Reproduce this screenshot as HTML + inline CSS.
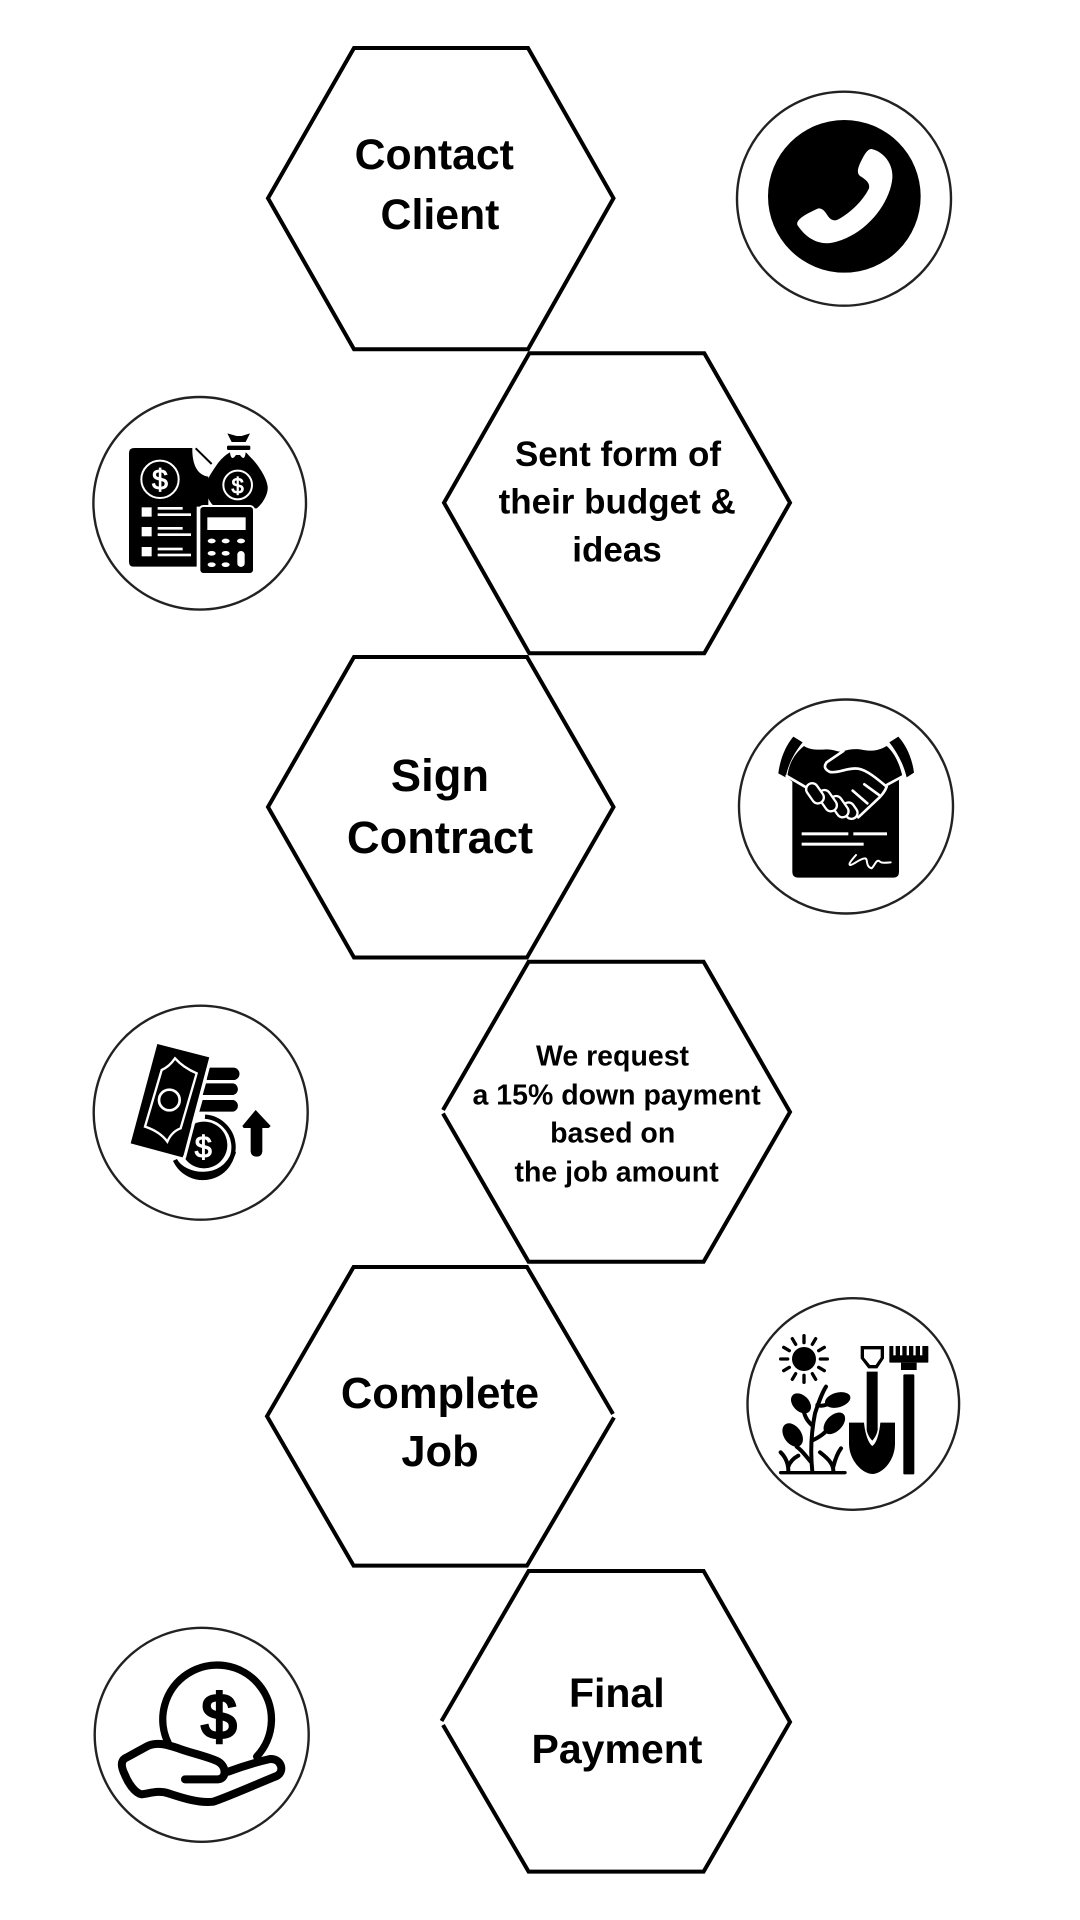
<!DOCTYPE html>
<html><head><meta charset="utf-8"><style>
html,body{margin:0;padding:0;background:#fff;width:1080px;height:1920px;overflow:hidden}
svg{display:block}
text{font-family:"Liberation Sans",sans-serif;font-weight:700;fill:#000;text-anchor:middle}
.h{fill:none;stroke:#000;stroke-width:4;stroke-linejoin:miter}
.c{fill:#fff;stroke:#222;stroke-width:2.4}
.w{fill:none;stroke:#fff;stroke-linecap:round;stroke-linejoin:round}
.k{fill:none;stroke:#000;stroke-linecap:round;stroke-linejoin:round}
.d{fill:#fff;stroke:#fff;font-weight:400}
</style></head><body>
<svg width="1080" height="1920" viewBox="0 0 1080 1920" xmlns="http://www.w3.org/2000/svg">
<rect width="1080" height="1920" fill="#fff"/>

<!-- hexagons -->
<polygon class="h" points="268,198.2 354,48 528,48 613.5,198.2 528,349.2 354,349.2"/>
<polygon class="h" points="444,502.7 529.3,353.3 704.3,353.3 790,502.7 704.3,653.3 529.3,653.3"/>
<polygon class="h" points="268,807 354,657 527,657 613.5,807 527,957.5 354,957.5"/>
<polyline class="h" points="443,1110 528.6,961.8 703.6,961.8 790,1112 703.6,1261.8 528.6,1261.8 443,1113.5"/>
<polyline class="h" points="613,1414 527,1267 353.6,1267 267,1416.3 353.6,1565.6 527,1565.6 614,1417.5"/>
<polyline class="h" points="441.5,1721 528.6,1571 703.6,1571 790,1722 703.6,1871.6 528.6,1871.6 443,1725"/>

<!-- labels -->
<text x="434.3" y="168.8" font-size="42.8">Contact</text>
<text x="440" y="228.8" font-size="42.8">Client</text>
<text x="618" y="465.9" font-size="35">Sent form of</text>
<text x="617.2" y="513.7" font-size="35">their budget &amp;</text>
<text x="617" y="561.4" font-size="35">ideas</text>
<text x="440" y="791" font-size="45.3">Sign</text>
<text x="440" y="853" font-size="45.3">Contract</text>
<text x="612.5" y="1065.5" font-size="28.5">We request</text>
<text x="616.6" y="1104.3" font-size="28.5">a 15% down payment</text>
<text x="612.7" y="1142.7" font-size="28.5">based on</text>
<text x="616.6" y="1181.4" font-size="28.5">the job amount</text>
<text x="440" y="1407.8" font-size="43.5">Complete</text>
<text x="440" y="1466" font-size="43.5">Job</text>
<text x="616.8" y="1707" font-size="41">Final</text>
<text x="617" y="1762.9" font-size="41">Payment</text>

<!-- circles -->
<circle class="c" cx="844" cy="198.7" r="107"/>
<circle class="c" cx="199.7" cy="503.3" r="106.3"/>
<circle class="c" cx="846" cy="806.5" r="107"/>
<circle class="c" cx="200.7" cy="1112.7" r="107"/>
<circle class="c" cx="853.3" cy="1404" r="105.8"/>
<circle class="c" cx="201.7" cy="1734.8" r="107"/>

<!-- phone -->
<g transform="translate(720,70) scale(.33333)">
<circle cx="373" cy="379" r="229" fill="#000"/>
<path fill="#fff" d="M455 237C490 245 520 280 517 325C510 400 440 490 350 515C310 528 265 515 232 465C228 450 250 435 295 415C310 415 315 425 325 440C335 452 345 455 360 445C395 425 430 390 447 355C450 340 440 330 420 318C410 310 412 295 425 270C435 250 445 235 455 237Z"/>
</g>

<!-- budget -->
<g transform="translate(80,380) scale(.33333)">
<path d="M147 220Q147 204 162 204H337C336 250 350 285 385 290V380H350V560H160Q147 560 147 545Z" fill="#000"/>
<path d="M347 205L395 252" fill="none" stroke="#000" stroke-width="6"/>
<circle cx="240" cy="298" r="56" fill="none" stroke="#fff" stroke-width="6"/>
<text class="d" x="240" y="329" font-size="86" stroke-width="2.5">$</text>
<rect x="185" y="382" width="30" height="28" fill="#fff"/><rect x="185" y="441" width="30" height="28" fill="#fff"/><rect x="185" y="501" width="30" height="28" fill="#fff"/>
<g fill="#fff"><rect x="233" y="381" width="75" height="8"/><rect x="233" y="400" width="100" height="8"/><rect x="233" y="441" width="75" height="8"/><rect x="233" y="460" width="100" height="8"/><rect x="233" y="503" width="75" height="8"/><rect x="233" y="521" width="100" height="8"/></g>
<path d="M442 160L470 168H485L510 160L497 186H455Z" fill="#000"/>
<rect x="441" y="197" width="70" height="13" rx="4" fill="#000"/>
<path d="M450 217C435 225 420 240 410 255C390 285 375 305 378 330C380 355 395 375 410 385H530C550 370 565 340 563 320C560 290 530 250 515 235C505 225 500 218 497 217C495 235 490 240 480 225H468C458 240 452 235 450 217Z" fill="#000"/>
<circle cx="473" cy="315" r="43" fill="none" stroke="#fff" stroke-width="6"/>
<text class="d" x="473" y="340" font-size="66" stroke-width="2.5">$</text>
<rect x="358" y="378" width="164" height="204" rx="12" fill="#000" stroke="#fff" stroke-width="6"/>
<rect x="382" y="412" width="115" height="38" fill="#fff"/>
<g fill="#fff"><ellipse cx="395" cy="483" rx="12" ry="7"/><ellipse cx="437" cy="483" rx="12" ry="7"/><ellipse cx="483" cy="483" rx="12" ry="7"/><ellipse cx="395" cy="520" rx="12" ry="7"/><ellipse cx="437" cy="520" rx="12" ry="7"/><ellipse cx="395" cy="554" rx="12" ry="7"/><ellipse cx="437" cy="554" rx="12" ry="7"/><rect x="472" y="513" width="22" height="48" rx="11"/></g>
</g>

<!-- contract -->
<g transform="translate(730,690) scale(.33333)">
<path fill="#000" d="M190 140L218 157C195 185 175 220 167 262L145 250C150 210 165 170 190 140Z"/>
<path fill="#000" d="M505 140L478 157C500 185 520 220 530 262L552 248C547 210 532 170 505 140Z"/>
<path fill="#000" d="M222 168C240 180 260 180 290 178C310 178 320 185 335 185C355 178 380 175 400 180C430 185 450 180 470 168C495 190 510 225 518 262L507 270V545Q507 563 490 563H205Q187 563 187 545V275L172 262C175 220 195 190 222 168Z"/>
<path class="w" stroke-width="8" d="M340 183L290 217Q276 235 300 246C330 250 350 232 385 236C410 240 440 265 470 290C465 305 450 322 435 335L385 382"/>
<path class="w" stroke-width="8" d="M170 258L228 292M470 285L520 258M403 283L447 315M368 302L412 340"/>
<g fill="#000" stroke="#fff" stroke-width="7">
<rect x="342" y="336" width="36" height="52" rx="18" transform="rotate(-35 360 362)"/>
<rect x="310" y="315" width="36" height="70" rx="18" transform="rotate(-35 328 350)"/>
<rect x="275" y="297" width="36" height="70" rx="18" transform="rotate(-35 293 332)"/>
<rect x="237" y="277" width="36" height="66" rx="18" transform="rotate(-35 255 310)"/>
</g>
<g fill="#fff"><rect x="215" y="427" width="140" height="9"/><rect x="370" y="427" width="101" height="9"/><rect x="215" y="458" width="186" height="9"/></g>
<path class="w" stroke-width="6" d="M378 495C365 510 352 525 362 525C375 522 390 505 405 505C415 505 405 530 425 535C435 525 440 505 450 515C455 520 470 518 482 517"/>
</g>

<!-- down payment -->
<g transform="translate(80,995) scale(.33333)">
<g fill="#000"><path d="M385 218H460A18 18 0 0 1 460 255H380Z"/><path d="M378 265H460A18 18 0 0 1 460 300H368Z"/><path d="M368 315H460A18 18 0 0 1 460 350H358Z"/></g>
<path class="k" stroke-width="13" style="stroke-linecap:butt" d="M285 495A92 92 0 1 0 375 365"/>
<path class="k" stroke-width="13" style="stroke-linecap:butt" d="M285 495C310 545 430 565 462 470"/>
<circle cx="372" cy="450" r="70" fill="#000"/>
<text class="d" x="370" y="488" font-size="92" stroke-width="3">$</text>
<polygon points="232,147 388,187 308,487 152,445" fill="#000"/>
<path d="M393 186L313 490" stroke="#fff" stroke-width="9" fill="none"/>
<path fill="none" stroke="#fff" stroke-width="7" d="M245 225Q268 215 285 190Q310 218 350 235L302 400Q275 410 262 440Q240 410 195 395Z"/>
<circle cx="268" cy="315" r="31" fill="none" stroke="#fff" stroke-width="8"/>
<path fill="#000" d="M527 345L572 393L566 399H547V470Q545 485 530 485Q514 485 512 470V399H491L487 393Z"/>
</g>

<!-- garden -->
<g transform="translate(740,1290) scale(.33333)">
<circle cx="192" cy="207" r="36" fill="#000"/>
<g class="k" stroke-width="10">
<path d="M192 137V158M192 256V277M122 207H143M241 207H262M157 146L167 163M217 251L227 268M131 172L148 182M236 232L253 242M131 242L148 232M236 182L253 172M157 268L167 251M217 163L227 146"/>
</g>
<path fill="#000" fill-rule="evenodd" d="M362 168H432V205L412 235H385L362 205ZM372 178V203L390 225H407L422 203V178Z"/>
<path fill="#000" d="M380 245H413V420C410 435 403 445 397 452C390 445 383 435 380 420Z"/>
<path fill="#000" d="M327 398H372C375 430 385 460 397 468C410 460 418 430 421 398H465V460C465 510 430 550 397 552C365 550 327 510 327 460Z"/>
<g fill="#000"><rect x="448" y="168" width="117" height="50" rx="2"/><rect x="483" y="218" width="47" height="22"/><rect x="490" y="253" width="33" height="300" rx="3"/></g>
<g fill="#fff"><rect x="460" y="168" width="7" height="28"/><rect x="480" y="168" width="7" height="28"/><rect x="500" y="168" width="7" height="28"/><rect x="520" y="168" width="7" height="28"/><rect x="540" y="168" width="7" height="28"/></g>
<rect x="117" y="543" width="203" height="10" rx="5" fill="#000"/>
<g class="k" stroke-width="12">
<path d="M217 545C210 480 215 420 225 370C235 340 245 310 258 290"/>
<path d="M215 405C200 390 195 380 190 360M232 345C250 352 270 340 285 330M220 450C240 440 255 430 270 410M212 515C195 495 185 480 170 470"/>
<path d="M145 543C145 520 135 500 122 487M145 530C150 515 160 505 175 497M280 543C280 525 270 510 240 487M280 530C285 510 292 490 303 475"/>
</g>
<g fill="#000">
<ellipse cx="183" cy="340" rx="35" ry="24" transform="rotate(45 183 340)"/>
<ellipse cx="293" cy="330" rx="39" ry="22" transform="rotate(-15 293 330)"/>
<ellipse cx="283" cy="400" rx="39" ry="24" transform="rotate(-45 283 400)"/>
<ellipse cx="158" cy="435" rx="39" ry="26" transform="rotate(55 158 435)"/>
</g>
</g>

<!-- final payment -->
<g transform="translate(85,1615) scale(.33333)">
<path class="k" stroke-width="22" d="M250 385A163 163 0 1 1 515 425"/>
<text x="402" y="370" font-size="190" style="font-weight:400;stroke:#000;stroke-width:9">$</text>
<path class="k" stroke-width="24" d="M300 493H400C425 490 425 455 400 440C370 425 320 415 280 400C250 390 220 380 190 392C165 405 140 420 120 430C105 440 110 460 120 480C130 505 150 535 170 538C195 535 220 525 250 535C290 548 340 565 385 560C430 545 520 505 575 483C600 470 590 430 555 432C520 440 470 455 430 470"/>
</g>
</svg>
</body></html>
